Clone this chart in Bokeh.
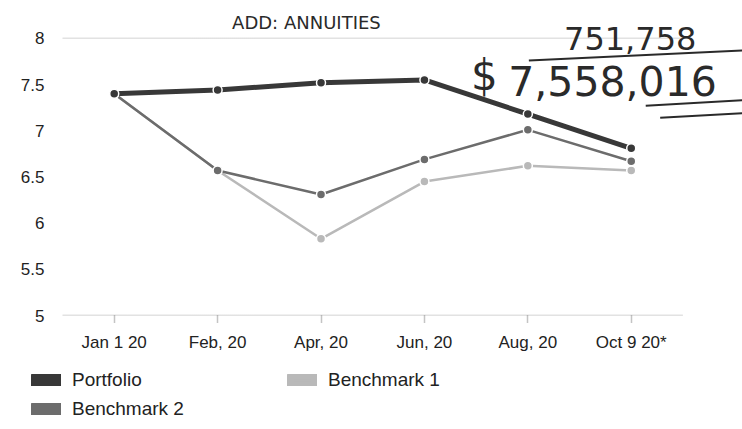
from bokeh.plotting import figure
from bokeh.models import (Range1d, FixedTicker, Legend, LegendItem, ColumnDataSource, Label)
from bokeh.embed import file_html
from bokeh.resources import INLINE

categories = ["Jan 1 20", "Feb, 20", "Apr, 20", "Jun, 20", "Aug, 20", "Oct 9 20*"]
portfolio = [7.40, 7.44, 7.52, 7.55, 7.18, 6.81]
benchmark1 = [7.40, 6.57, 5.83, 6.45, 6.62, 6.57]
benchmark2 = [7.40, 6.57, 6.31, 6.69, 7.01, 6.67]
y_ticks = [5, 5.5, 6, 6.5, 7, 7.5, 8]
series_names = ["Portfolio", "Benchmark 1", "Benchmark 2"]
series_colors = ["#383838", "#b9b9b9", "#6c6c6c"]

# handwritten notes on the printout: (text, x, y, size)
notes = [("ADD: ANNUITIES", 1.64, 8.06, "18px"),
         ("751,758", 4.85, 7.87, "32px"),
         ("$", 3.95, 7.33, "42px"),
         ("7,558,016", 4.31, 7.38, "41px")]
# handwritten underline strokes: (x0, y0, x1, y1)
strokes = [(4.51, 7.76, 6.58, 7.87),
           (5.64, 7.27, 6.58, 7.33),
           (5.78, 7.14, 6.58, 7.19)]

FONT = "Liberation Sans"
n = len(categories)
xs = [i + 0.5 for i in range(n)]

p = figure(width=742, height=355, output_backend="svg", toolbar_location=None,
           x_range=Range1d(0, 6.576), y_range=Range1d(5, 8.41),
           min_border_left=62, min_border_right=0, min_border_top=0, min_border_bottom=40)
p.outline_line_color = None
p.background_fill_color = "white"
p.border_fill_color = "white"

p.xaxis.ticker = FixedTicker(ticks=xs)
p.xaxis.major_label_overrides = {x: c for x, c in zip(xs, categories)}
p.xaxis.axis_line_color = None
p.xaxis.major_tick_line_color = "#8a8a8a"
p.xaxis.major_tick_line_dash = "1 1"
p.xaxis.major_tick_line_width = 1.5
p.xaxis.major_tick_in = 0
p.xaxis.major_tick_out = 7
p.xaxis.minor_tick_line_color = None
p.xaxis.major_label_text_font = FONT
p.xaxis.major_label_text_font_size = "17px"
p.xaxis.major_label_text_color = "#222222"
p.xaxis.major_label_standoff = 10

p.yaxis.ticker = FixedTicker(ticks=y_ticks)
p.yaxis.axis_line_color = None
p.yaxis.major_tick_line_color = None
p.yaxis.minor_tick_line_color = None
p.yaxis.major_label_text_font = FONT
p.yaxis.major_label_text_font_size = "17px"
p.yaxis.major_label_text_color = "#222222"
p.yaxis.major_label_standoff = 12

p.xgrid.grid_line_color = None
p.ygrid.grid_line_color = None

# baseline (5) and top gridline (8), dotted, spanning the category band
p.segment(x0=[0, 0], x1=[n, n], y0=[y_ticks[0], y_ticks[-1]], y1=[y_ticks[0], y_ticks[-1]],
          line_color=["#8a8a8a", "#c4c4c4"], line_dash="1 1", line_width=1.5)

data = {"Portfolio": portfolio, "Benchmark 1": benchmark1, "Benchmark 2": benchmark2}
widths = {"Portfolio": 5, "Benchmark 1": 2.5, "Benchmark 2": 2.5}
for name in ["Benchmark 1", "Benchmark 2", "Portfolio"]:
    color = series_colors[series_names.index(name)]
    src = ColumnDataSource(dict(x=xs, y=data[name]))
    p.line("x", "y", source=src, line_color=color, line_width=widths[name])
    p.scatter("x", "y", source=src, size=9, fill_color=color,
              line_color="white", line_width=1.5)

for t, x, y, s in notes:
    p.add_layout(Label(x=x, y=y, text=t, text_font="DejaVu Sans",
                       text_font_size=s, text_color="#2a2a2a"))
sx0, sy0, sx1, sy1 = zip(*strokes)
p.segment(x0=list(sx0), y0=list(sy0), x1=list(sx1), y1=list(sy1),
          line_color="#2a2a2a", line_width=2)

# legend figure (no axes, frame fills it), rendered as a second root below the chart
q = figure(width=742, height=74, output_backend="svg", toolbar_location=None,
           x_range=Range1d(0, 1), y_range=Range1d(0, 1),
           x_axis_location=None, y_axis_location=None,
           min_border_left=0, min_border_right=0, min_border_top=0, min_border_bottom=0)
q.grid.grid_line_color = None
q.outline_line_color = None
q.background_fill_color = "white"
q.border_fill_color = "white"
sw = {}
for name, color in zip(series_names, series_colors):
    # swatch renderers sit outside the visible range; only their legend glyph shows
    sw[name] = q.quad(left=[5], right=[6], top=[6], bottom=[5], fill_color=color,
                      line_color=color, line_width=7, line_join="round")

common = dict(orientation="horizontal", glyph_width=30, glyph_height=12, label_height=16,
              label_width=215, label_standoff=11, spacing=0, padding=0, margin=0,
              label_text_font=FONT, label_text_font_size="19px",
              label_text_color="#222222", label_text_baseline="middle",
              border_line_color=None, background_fill_alpha=0)
legA = Legend(items=[LegendItem(label=nm, renderers=[sw[nm]]) for nm in series_names[:2]],
              location=(31, 38), **common)
legB = Legend(items=[LegendItem(label=nm, renderers=[sw[nm]]) for nm in series_names[2:]],
              location=(31, 9), **common)
q.add_layout(legA)
q.add_layout(legB)

open("out.html", "w").write(file_html([p, q], INLINE))
